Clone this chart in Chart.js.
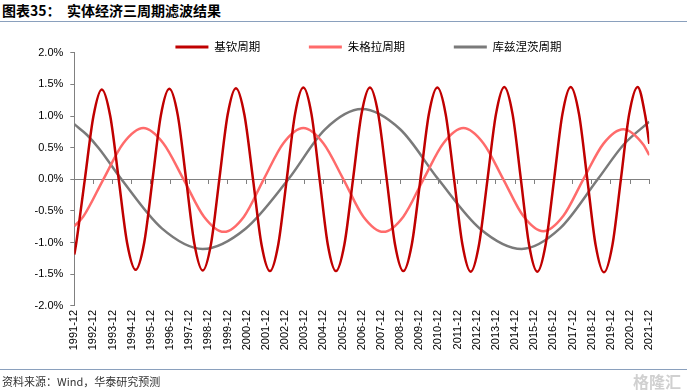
<!DOCTYPE html>
<html>
<head>
<meta charset="utf-8">
<script src="https://cdn.jsdelivr.net/npm/chart.js@4.4.0/dist/chart.umd.min.js"></script>
<style>
  body { margin: 0; width: 687px; height: 391px; position: relative; overflow: hidden; background: #fff; font-family: "Noto Sans CJK SC", sans-serif; }
  #title { position: absolute; left: 2px; top: 1px; font-size: 14px; font-weight: bold; color: #000; white-space: pre; line-height: 18px; }
  .rule { position: absolute; left: 0; width: 687px; height: 1px; background: #8aa0bd; }
  #src { position: absolute; left: 2px; top: 373px; font-size: 11px; color: #333; line-height: 16px; }
  #wm { position: absolute; right: 6px; top: 369px; font-size: 16px; font-weight: bold; color: #d0d0d0; }
  #chart { position: absolute; left: 0; top: 0; }
</style>
</head>
<body>
<div id="title">图表35：  实体经济三周期滤波结果</div>
<div class="rule" style="top:21px"></div>
<!-- canvas is a bit wider than the page so the centred legend row lands where the original has it -->
<canvas id="chart" width="737" height="391"></canvas>
<div class="rule" style="top:369px"></div>
<div id="src">资料来源：Wind，华泰研究预测</div>
<div id="wm">格隆汇</div>
<script>
// x = months since 1991-12, y = %
const tickLabels = ["1991-12","1992-12","1993-12","1994-12","1995-12","1996-12","1997-12","1998-12",
  "1999-12","2000-12","2001-12","2002-12","2003-12","2004-12","2005-12","2006-12","2007-12","2008-12",
  "2009-12","2010-12","2011-12","2012-12","2013-12","2014-12","2015-12","2016-12","2017-12","2018-12",
  "2019-12","2020-12","2021-12"];

const seriesNames = ["基钦周期", "朱格拉周期", "库兹涅茨周期"];

const kitchinMonth = [0, 1.2, 6.6, 12.0, 17.2, 22.5, 27.8, 33.1, 38.4, 43.7, 49.0, 54.2, 59.5, 64.8, 70.0,
  75.2, 80.4, 85.6, 90.8, 96.0, 101.2, 106.5, 111.9, 117.2, 122.5, 127.7, 133.0, 138.2, 143.4, 148.5,
  153.6, 158.7, 163.8, 169.1, 174.5, 179.8, 185.1, 190.3, 195.6, 200.8, 206.0, 211.3, 216.7, 222.0,
  227.3, 232.5, 237.8, 243.0, 248.2, 253.4, 258.7, 264.0, 269.2, 274.4, 279.6, 284.7, 289.9, 295.1,
  300.4, 305.6, 310.8, 316.0, 321.2, 326.4, 331.6, 336.9, 342.2, 347.4, 352.7, 357.5, 360];
const kitchinValue = [-1.19, -1.01, 0, 1.00, 1.42, 1.00, 0, -1.01, -1.43, -1.01, 0, 1.01, 1.43, 1.01, 0,
  -1.02, -1.44, -1.02, 0, 1.02, 1.44, 1.02, 0, -1.03, -1.45, -1.03, 0, 1.03, 1.45, 1.03,
  0, -1.03, -1.45, -1.03, 0, 1.03, 1.45, 1.03, 0, -1.03, -1.45, -1.03, 0, 1.03,
  1.45, 1.03, 0, -1.03, -1.46, -1.03, 0, 1.03, 1.46, 1.03, 0, -1.03, -1.46, -1.03,
  0, 1.03, 1.46, 1.03, 0, -1.04, -1.47, -1.04, 0, 1.03, 1.46, 1.00, 0.56];

const juglarMonth = [0, 5.6, 18.2, 30.7, 43.2, 55.7, 68.4, 81.2, 93.7, 106.2, 118.6, 130.9, 143.4, 155.9,
  168.5, 181.0, 193.5, 206.0, 218.6, 231.1, 243.6, 256.1, 268.6, 281.1, 293.6, 306.1, 318.7, 331.2,
  343.7, 356.2, 360];
const juglarValue = [-0.74, -0.59, 0, 0.57, 0.81, 0.57, 0, -0.59, -0.83, -0.59, 0, 0.57, 0.81, 0.57,
  0, -0.59, -0.83, -0.59, 0, 0.57, 0.81, 0.57, 0, -0.58, -0.82, -0.58, 0, 0.56,
  0.79, 0.55, 0.38];

const kuznetsMonth = [0, 8, 15.7, 29.5, 55, 80.4, 107.2, 134.0, 157.0, 180.0, 204.0, 227.9, 254.0, 280.1,
  303.9, 327.7, 344, 360];
const kuznetsValue = [0.87, 0.70, 0.48, 0, -0.78, -1.10, -0.78, 0, 0.79, 1.11, 0.79, 0, -0.78, -1.10,
  -0.78, 0, 0.55, 0.91];

const colors = ["#c00000", "#ff6b6b", "#7a7a7a"];

function pts(xs, ys) {
  return xs.map((x, i) => ({ x: x, y: ys[i] }));
}

const axisFont = { family: "Liberation Sans, Arial, sans-serif", size: 11 };

const chart = new Chart(document.getElementById("chart"), {
  type: "line",
  data: {
    datasets: [
      { label: seriesNames[0], data: pts(kitchinMonth, kitchinValue), borderColor: colors[0] },
      { label: seriesNames[1], data: pts(juglarMonth, juglarValue), borderColor: colors[1] },
      { label: seriesNames[2], data: pts(kuznetsMonth, kuznetsValue), borderColor: colors[2] }
    ].map(ds => Object.assign(ds, {
      xAxisID: "x", yAxisID: "y", borderWidth: 2.5, pointRadius: 0, fill: false,
      cubicInterpolationMode: "monotone"
    }))
  },
  options: {
    responsive: false,
    animation: false,
    layout: { padding: { top: -7.45, left: 0, right: 0, bottom: 39.1 } },
    plugins: {
      tooltip: { enabled: false },
      legend: {
        position: "top",
        fullSize: true,
        maxHeight: 60.15,
        labels: {
          boxWidth: 33,
          boxHeight: 3,
          padding: 48.7,
          color: "#000",
          font: { family: "Noto Sans CJK SC", size: 11.5 },
          generateLabels: (c) => c.data.datasets.map((ds, i) => ({
            text: ds.label, fillStyle: ds.borderColor, strokeStyle: ds.borderColor,
            lineWidth: 0, hidden: false, datasetIndex: i
          }))
        }
      }
    },
    scales: {
      x: {
        type: "linear",
        min: 0,
        max: 360,
        position: "bottom",
        afterFit: (s) => { s.height = 46; },
        grid: { display: false, drawTicks: false },
        border: { display: false },
        ticks: {
          stepSize: 12,
          autoSkip: false,
          minRotation: 90,
          maxRotation: 90,
          padding: 4,
          color: "#000",
          font: axisFont,
          callback: (v) => tickLabels[Math.round(v / 12)]
        }
      },
      x0: {
        type: "linear",
        min: 0,
        max: 360,
        position: { y: 0 },
        ticks: { display: false, stepSize: 12 },
        grid: { drawOnChartArea: false, tickLength: 4, color: "#808080" },
        border: { color: "#808080", width: 1 }
      },
      y: {
        min: -2,
        max: 2,
        position: "left",
        afterFit: (s) => { s.width = 74.3; },
        grid: { drawOnChartArea: false, tickLength: 4, color: "#808080" },
        border: { color: "#808080", width: 1 },
        ticks: {
          stepSize: 0.5,
          padding: 7,
          color: "#000",
          font: axisFont,
          callback: (v) => (Math.abs(v) < 1e-9 ? 0 : v).toFixed(1) + "%"
        }
      },
      yR: {
        type: "linear",
        position: "right",
        display: true,
        afterFit: (s) => { s.width = 87.7; },
        grid: { display: false, drawTicks: false },
        border: { display: false },
        ticks: { display: false }
      }
    }
  }
});
</script>
</body>
</html>
